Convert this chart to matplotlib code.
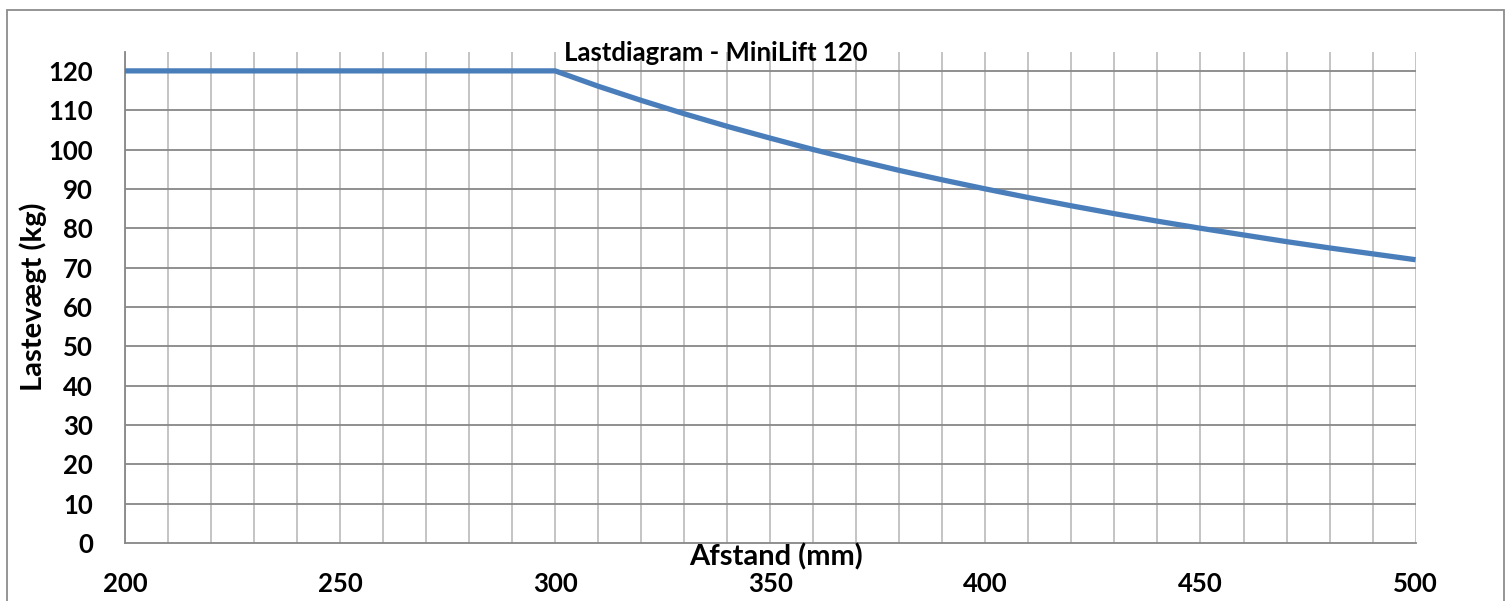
import matplotlib
matplotlib.use('Agg')
import matplotlib.pyplot as plt
import matplotlib.patches as patches

plt.rcParams['font.family'] = ['Lato', 'DejaVu Sans']
plt.rcParams['font.weight'] = 'bold'

# load chart data
afstand = [200, 210, 220, 230, 240, 250, 260, 270, 280, 290, 300,
           310, 320, 330, 340, 350, 360, 370, 380, 390, 400,
           410, 420, 430, 440, 450, 460, 470, 480, 490, 500]
lastevaegt = [120, 120, 120, 120, 120, 120, 120, 120, 120, 120, 120,
              116.1, 112.5, 109.1, 105.9, 102.9, 100.0, 97.3, 94.7, 92.3, 90.0,
              87.8, 85.7, 83.7, 81.8, 80.0, 78.3, 76.6, 75.0, 73.5, 72.0]
x_ticks = [200, 250, 300, 350, 400, 450, 500]
y_ticks = list(range(0, 130, 10))

W, H = 1511, 601
fig = plt.figure(figsize=(W / 100, H / 100), dpi=100)
ax = fig.add_axes([125 / W, 1 - 543 / H, (1415.6 - 125) / W, (543 - 52) / H])

# grid: light vertical every 10 mm, darker horizontal at y ticks
for xv in range(200, 501, 10):
    ax.axvline(xv, color='#bfbfbf', lw=1.3, zorder=1)
for yv in y_ticks[1:]:
    ax.axhline(yv, color='#878787', lw=1.3, zorder=1)

ax.plot(afstand, lastevaegt, color='#4a7ebb', lw=3.8, solid_capstyle='butt', zorder=3)

ax.set_xlim(200, 500)
ax.set_ylim(0, 124.8)
ax.set_xticks(x_ticks)
ax.set_yticks(y_ticks)
ax.tick_params(axis='both', length=0, labelsize=18.5)
ax.tick_params(axis='y', pad=23)
ax.tick_params(axis='x', pad=21)
for s in ['top', 'right']:
    ax.spines[s].set_visible(False)
ax.spines['left'].set_color('#878787')
ax.spines['bottom'].set_color('#878787')
ax.spines['left'].set_linewidth(1.3)
ax.spines['bottom'].set_linewidth(1.3)

fig.text(716 / W, 1 - 53 / H, 'Lastdiagram - MiniLift 120', ha='center', va='center',
         fontsize=18.5, fontweight='bold')
fig.text(776 / W, 1 - 557 / H, 'Afstand (mm)', ha='center', va='center',
         fontsize=21, fontweight='bold')
fig.text(33 / W, 1 - 297 / H, 'Lastevægt (kg)', ha='center', va='center',
         rotation=90, fontsize=21, fontweight='bold')

# outer chart border
border = patches.Rectangle((7 / W, -0.1), 1497 / W, 1 - 10 / H + 0.1,
                           transform=fig.transFigure, fill=False,
                           edgecolor='#8c8c8c', lw=1.3, clip_on=False)
fig.patches.append(border)

plt.savefig('out.png', dpi=100)
